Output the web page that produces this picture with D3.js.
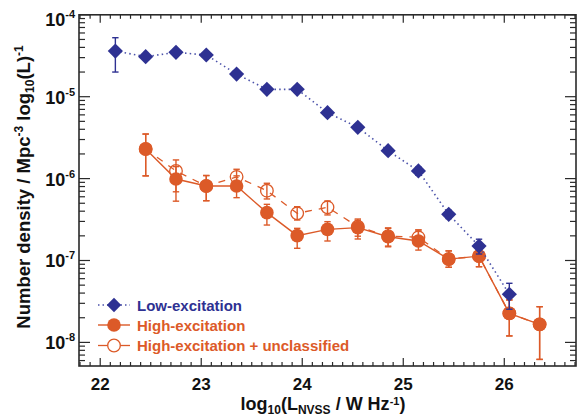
<!DOCTYPE html>
<html><head><meta charset="utf-8">
<script src="https://cdn.jsdelivr.net/npm/d3@7"></script>
<style>
body{margin:0;background:#fff}
text{font-family:"Liberation Sans",Arial,Helvetica,sans-serif;font-weight:bold}
</style>
</head><body>
<svg id="chart" width="577" height="416"></svg>
<script>
// ---- data ----
const lowX = [22.15,22.45,22.75,23.05,23.35,23.65,23.95,24.25,24.55,24.85,25.15,25.45,25.75,26.05];
const lowY = [3.61e-5,3.08e-5,3.48e-5,3.23e-5,1.89e-5,1.23e-5,1.23e-5,6.38e-6,4.23e-6,2.19e-6,1.24e-6,3.66e-7,1.50e-7,3.87e-8];
const lowHi = [5.25e-5,3.3e-5,3.7e-5,3.45e-5,2.0e-5,1.32e-5,1.33e-5,6.9e-6,4.6e-6,2.4e-6,1.38e-6,4.1e-7,1.82e-7,5.27e-8];
const lowLo = [2.0e-5,2.88e-5,3.27e-5,3.02e-5,1.78e-5,1.14e-5,1.13e-5,5.9e-6,3.88e-6,1.99e-6,1.1e-6,3.25e-7,1.20e-7,2.54e-8];

const highX = [22.45,22.75,23.05,23.35,23.65,23.95,24.25,24.55,24.85,25.15,25.45,25.75,26.05,26.35];
const highY = [2.30e-6,9.89e-7,8.12e-7,8.12e-7,3.84e-7,2.01e-7,2.40e-7,2.52e-7,1.95e-7,1.73e-7,1.04e-7,1.13e-7,2.26e-8,1.66e-8];
const highHi = [3.5e-6,1.40e-6,1.09e-6,1.08e-6,4.85e-7,2.47e-7,2.98e-7,3.21e-7,2.47e-7,2.36e-7,1.31e-7,1.42e-7,3.3e-8,2.73e-8];
const highLo = [1.08e-6,5.3e-7,5.37e-7,5.85e-7,2.71e-7,1.41e-7,1.73e-7,1.83e-7,1.47e-7,1.34e-7,8.26e-8,8.4e-8,1.2e-8,6.2e-9];

const allX = [22.45,22.75,23.05,23.35,23.65,23.95,24.25,24.55,24.85,25.15,25.45,25.75,26.05,26.35];
const allY = [2.30e-6,1.24e-6,8.12e-7,1.05e-6,7.12e-7,3.77e-7,4.46e-7,2.59e-7,1.98e-7,1.92e-7,1.04e-7,1.13e-7,2.26e-8,1.66e-8];
const allHi = [3.5e-6,1.69e-6,1.09e-6,1.30e-6,8.77e-7,4.54e-7,5.33e-7,3.1e-7,2.5e-7,2.36e-7,1.31e-7,1.42e-7,3.3e-8,2.73e-8];
const allLo = [1.08e-6,6.9e-7,5.37e-7,8.1e-7,5.64e-7,3.12e-7,3.6e-7,1.98e-7,1.5e-7,1.54e-7,8.26e-8,8.4e-8,1.2e-8,6.2e-9];

const xTicks = [22,23,24,25,26];
const yTicks = [1e-8,1e-7,1e-6,1e-5,1e-4];
const yTickExp = ["-8","-7","-6","-5","-4"];
const legendLabels = ["Low-excitation","High-excitation","High-excitation + unclassified"];

// ---- layout ----
const BLUE = "#2e3192", BLUE_LINE = "#4b52aa", ORANGE = "#dc5a28", AXIS = "#2a2a2a";
const L = 79, R = 576, T = 14.8, B = 366;
const svg = d3.select("#chart");
const x = d3.scaleLinear().domain([21.79, 26.71]).range([L, R]);
const y = d3.scaleLog().domain([5.15e-9, 1e-4]).range([B, T]);

// ---- axes ticks ----
const g = svg.append("g").attr("stroke", AXIS).attr("stroke-width", 1.2);
const minorX = d3.range(218, 268).map(d => d / 10).filter(d => d > 21.79 && d < 26.71);
minorX.forEach(v => {
  const major = Math.abs(v - Math.round(v)) < 1e-6;
  const len = major ? 8 : 4;
  g.append("line").attr("x1", x(v)).attr("x2", x(v)).attr("y1", B).attr("y2", B - len);
  g.append("line").attr("x1", x(v)).attr("x2", x(v)).attr("y1", T).attr("y2", T + len);
});
y.ticks(40).filter(v => v >= 5.15e-9 && v <= 1e-4).forEach(v => {
  const m = v / Math.pow(10, Math.floor(Math.log10(v) + 1e-9));
  const major = Math.abs(m - 1) < 1e-6;
  const len = major ? 11 : 6;
  g.append("line").attr("x1", L).attr("x2", L + len).attr("y1", y(v)).attr("y2", y(v));
  g.append("line").attr("x1", R).attr("x2", R - len).attr("y1", y(v)).attr("y2", y(v));
});
svg.append("rect").attr("x", L).attr("y", T).attr("width", R - L).attr("height", B - T)
  .attr("fill", "none").attr("stroke", AXIS).attr("stroke-width", 1.6);

// tick labels
xTicks.forEach(v => {
  svg.append("text").attr("x", x(v)).attr("y", 390).attr("text-anchor", "middle")
    .attr("font-size", 17).attr("fill", "#111").text(v);
});
yTicks.forEach((v, i) => {
  const t = svg.append("text").attr("x", 75).attr("y", y(v) + (i === 4 ? 11 : 7))
    .attr("text-anchor", "end").attr("font-size", 18).attr("fill", "#111");
  t.append("tspan").text("10");
  t.append("tspan").attr("font-size", 11).attr("dy", -8).text(yTickExp[i]);
});

// axis titles
const xt = svg.append("text").attr("x", 323).attr("y", 410).attr("text-anchor", "middle")
  .attr("font-size", 18).attr("fill", "#111");
xt.append("tspan").text("log");
xt.append("tspan").attr("font-size", 12).attr("dy", 4).text("10");
xt.append("tspan").attr("dy", -4).text("(L");
xt.append("tspan").attr("font-size", 12).attr("dy", 4).text("NVSS");
xt.append("tspan").attr("dy", -4).text(" / W Hz");
xt.append("tspan").attr("font-size", 11).attr("dy", -5.5).text("-1");
xt.append("tspan").attr("dy", 5.5).text(")");

const yt = svg.append("text").attr("transform", "translate(30,187) rotate(-90)")
  .attr("text-anchor", "middle").attr("font-size", 18.5).attr("fill", "#111");
yt.append("tspan").text("Number density / Mpc");
yt.append("tspan").attr("font-size", 12).attr("dy", -7).text("-3");
yt.append("tspan").attr("dy", 7).text(" log");
yt.append("tspan").attr("font-size", 12).attr("dy", 4).text("10");
yt.append("tspan").attr("dy", -4).text("(L)");
yt.append("tspan").attr("font-size", 12).attr("dy", -7).text("-1");

// ---- series ----
const line = d3.line().x(d => x(d[0])).y(d => y(d[1]));
const zip = (a, b) => a.map((v, i) => [v, b[i]]);
const CAP = 3.2;
function errorBars(xs, lo, hi, color) {
  const eg = svg.append("g").attr("stroke", color).attr("stroke-width", 1.4);
  xs.forEach((v, i) => {
    const cx = x(v);
    eg.append("line").attr("x1", cx).attr("x2", cx).attr("y1", y(lo[i])).attr("y2", y(hi[i]));
    eg.append("line").attr("x1", cx - CAP).attr("x2", cx + CAP).attr("y1", y(lo[i])).attr("y2", y(lo[i]));
    eg.append("line").attr("x1", cx - CAP).attr("x2", cx + CAP).attr("y1", y(hi[i])).attr("y2", y(hi[i]));
  });
}

// high-excitation + unclassified (open, dashed)
svg.append("path").attr("d", line(zip(allX, allY))).attr("fill", "none")
  .attr("stroke", ORANGE).attr("stroke-width", 1.3).attr("stroke-dasharray", "7,7");
errorBars(allX, allLo, allHi, ORANGE);
svg.append("g").selectAll("circle").data(zip(allX, allY)).join("circle")
  .attr("cx", d => x(d[0])).attr("cy", d => y(d[1])).attr("r", 6.3)
  .attr("fill", "none").attr("stroke", ORANGE).attr("stroke-width", 1.3);

// high-excitation (filled, solid)
svg.append("path").attr("d", line(zip(highX, highY))).attr("fill", "none")
  .attr("stroke", ORANGE).attr("stroke-width", 1.4);
errorBars(highX, highLo, highHi, ORANGE);
svg.append("g").selectAll("circle").data(zip(highX, highY)).join("circle")
  .attr("cx", d => x(d[0])).attr("cy", d => y(d[1])).attr("r", 6.8).attr("fill", ORANGE);

// low-excitation (diamonds, dotted)
svg.append("path").attr("d", line(zip(lowX, lowY))).attr("fill", "none")
  .attr("stroke", BLUE_LINE).attr("stroke-width", 1.6).attr("stroke-dasharray", "1.5,3.2");
errorBars(lowX, lowLo, lowHi, BLUE);
const diamond = (cx, cy, s) => `M${cx},${cy - s}L${cx + s},${cy}L${cx},${cy + s}L${cx - s},${cy}Z`;
svg.append("g").selectAll("path").data(zip(lowX, lowY)).join("path")
  .attr("d", d => diamond(x(d[0]), y(d[1]), 7.6)).attr("fill", BLUE);

// ---- legend ----
const lg = svg.append("g");
const rows = [305, 325, 345.5];
lg.append("line").attr("x1", 98).attr("x2", 130).attr("y1", rows[0]).attr("y2", rows[0])
  .attr("stroke", BLUE_LINE).attr("stroke-width", 1.5).attr("stroke-dasharray", "1.5,3");
lg.append("path").attr("d", diamond(114, rows[0], 7.2)).attr("fill", BLUE);
lg.append("line").attr("x1", 98).attr("x2", 130).attr("y1", rows[1]).attr("y2", rows[1])
  .attr("stroke", ORANGE).attr("stroke-width", 1.4);
lg.append("circle").attr("cx", 114).attr("cy", rows[1]).attr("r", 6.8).attr("fill", ORANGE);
lg.append("line").attr("x1", 98).attr("x2", 130).attr("y1", rows[2]).attr("y2", rows[2])
  .attr("stroke", ORANGE).attr("stroke-width", 1.3);
lg.append("circle").attr("cx", 114).attr("cy", rows[2]).attr("r", 6.3)
  .attr("fill", "#fff").attr("stroke", ORANGE).attr("stroke-width", 1.3);
const lcol = [BLUE, ORANGE, ORANGE];
legendLabels.forEach((s, i) => {
  lg.append("text").attr("x", 137).attr("y", rows[i] + 5.5).attr("font-size", 15)
    .attr("fill", lcol[i]).text(s);
});
</script>
</body></html>
